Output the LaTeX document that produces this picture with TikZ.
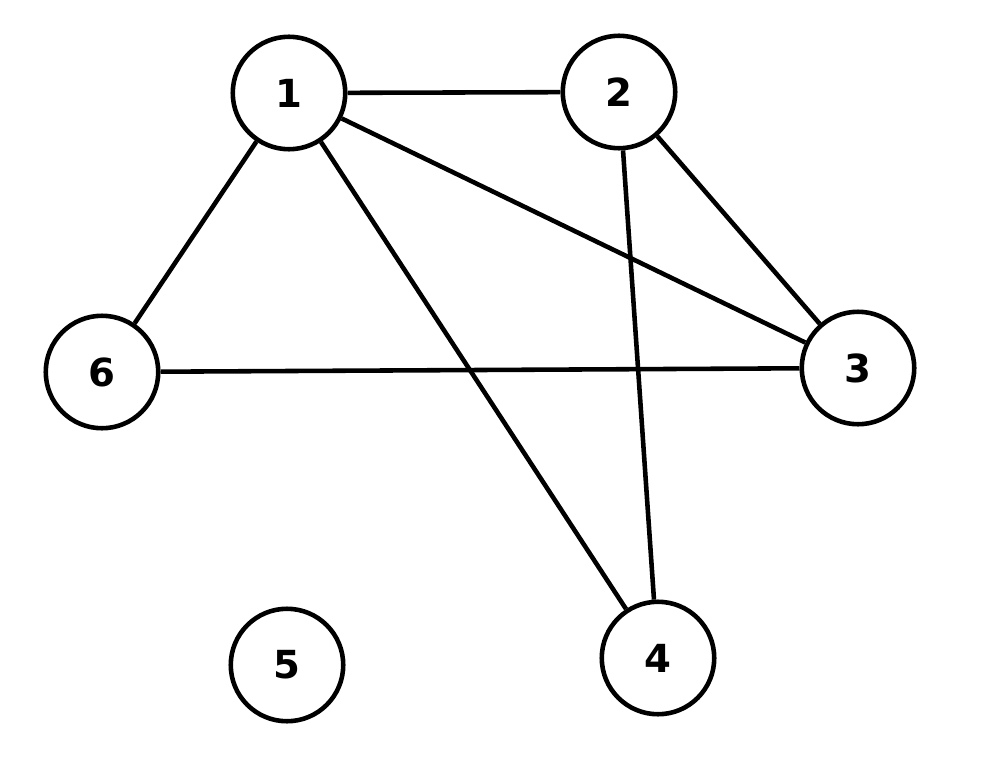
\documentclass[tikz,border=0pt]{standalone}
\usepackage{fontspec}
\setmainfont{DejaVu Sans}
\usetikzlibrary{positioning}
\begin{document}
\begin{tikzpicture}[
		x=0.02cm,y=-0.02cm,
		vertex/.style={
			draw,
			circle,
			line width=2.6pt,
			minimum size=2.25cm,
			inner sep=0,
			font=\fontsize{22}{24}\selectfont\bfseries
		},
		edge/.style={line width=2.6pt}
		]
		\useasboundingbox (0,0) rectangle (993,767);
		\node[vertex] (n1) at (289,93) {1};
		\node[vertex] (n2) at (619,92) {2};
		\node[vertex] (n3) at (858,368) {3};
		\node[vertex] (n4) at (658,658) {4};
		\node[vertex] (n5) at (287,665) {5};
		\node[vertex] (n6) at (102,372) {6};
		\foreach \a/\b in {n1/n2,n1/n3,n1/n6,n1/n4,n2/n3,n2/n4,n6/n3}
		\draw[edge] (\a) -- (\b);
	\end{tikzpicture}
\end{document}
